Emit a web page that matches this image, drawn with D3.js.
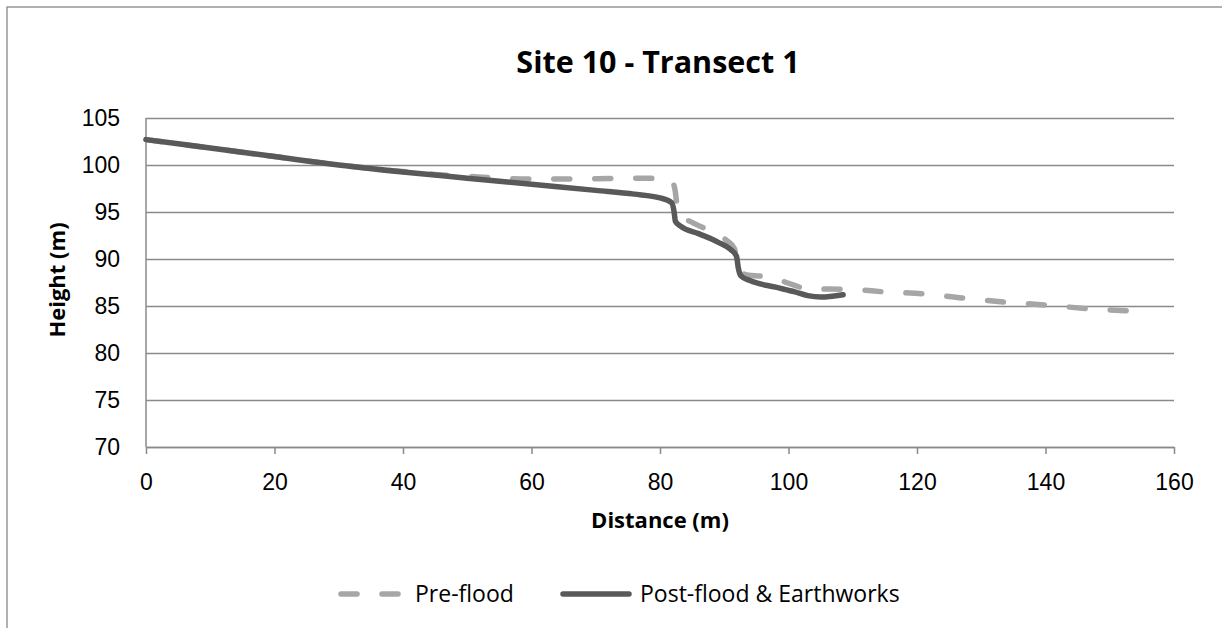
<!DOCTYPE html>
<html>
<head>
<meta charset="utf-8">
<script src="https://cdn.jsdelivr.net/npm/d3@7"></script>
<style>
  body { margin: 0; background: #fff; }
  svg { display: block; font-family: "Open Sans", sans-serif; }
</style>
</head>
<body>
<div id="chart"></div>
<script>
// distances (m) and heights (m)
var preDist   = [0, 10, 20, 30, 40, 45, 50, 55, 60, 70, 78, 81.8, 82.3, 82.6, 83.2, 85, 88, 90.5, 91.5, 92, 92.6, 93.5, 97, 100.5, 103.5, 106, 110, 115, 121, 127, 134, 140, 147, 152.7];
var preHeight = [102.7, 101.8, 100.9, 100.0, 99.3, 99.0, 98.8, 98.6, 98.5, 98.55, 98.6, 98.3, 97.5, 96.0, 94.6, 93.9, 92.9, 91.9, 91.2, 90.2, 88.8, 88.3, 88.1, 87.3, 86.75, 86.8, 86.75, 86.5, 86.3, 85.85, 85.4, 85.1, 84.7, 84.5];

var postDist   = [0, 10, 20, 30, 40, 50, 60, 70, 76, 80, 81.8, 82.2, 82.4, 83.2, 86, 89, 91, 91.9, 92.2, 92.6, 94, 98, 101, 103, 105, 108.5];
var postHeight = [102.7, 101.8, 100.9, 100.0, 99.25, 98.6, 97.95, 97.3, 96.9, 96.5, 96.0, 95.0, 94.0, 93.5, 92.7, 91.8, 91.0, 90.3, 89.0, 88.2, 87.7, 87.0, 86.5, 86.1, 85.95, 86.2];

var xTicks = [0, 20, 40, 60, 80, 100, 120, 140, 160];
var yTicks = [70, 75, 80, 85, 90, 95, 100, 105];
var seriesNames = ["Pre-flood", "Post-flood & Earthworks"];

var W = 1222, H = 628;
var margin = { top: 118, right: 48, bottom: 181, left: 146 };
var width = W - margin.left - margin.right;
var height = H - margin.top - margin.bottom;

var svg = d3.select("#chart").append("svg")
    .attr("width", W)
    .attr("height", H);

// outer chart border (cut off at right and bottom like the picture)
svg.append("rect")
    .attr("x", 7).attr("y", 7)
    .attr("width", W + 20).attr("height", H + 20)
    .attr("fill", "none")
    .attr("stroke", "#878787")
    .attr("stroke-width", 1.3);

var x = d3.scaleLinear().domain([0, 160]).range([0, width]);
var y = d3.scaleLinear().domain([70, 105]).range([height, 0]);

var g = svg.append("g").attr("transform", "translate(" + margin.left + "," + margin.top + ")");

// horizontal gridlines + y labels
var yAxis = g.append("g")
    .call(d3.axisLeft(y).tickValues(yTicks).tickSize(-width).tickPadding(26).tickFormat(d3.format("d")));
yAxis.select(".domain").remove();
yAxis.selectAll(".tick line").attr("stroke", "#8a8a8a").attr("stroke-width", 1.5);
yAxis.selectAll(".tick text").attr("font-size", 23).attr("fill", "#000");

// left axis line
g.append("line")
    .attr("x1", 0).attr("x2", 0).attr("y1", 0).attr("y2", height)
    .attr("stroke", "#8a8a8a").attr("stroke-width", 1.5);

// x axis
var xAxis = g.append("g")
    .attr("transform", "translate(0," + height + ")")
    .call(d3.axisBottom(x).tickValues(xTicks).tickSize(7).tickPadding(20).tickSizeOuter(0));
xAxis.select(".domain").attr("stroke", "#8a8a8a").attr("stroke-width", 1.5);
xAxis.selectAll(".tick line").attr("stroke", "#8a8a8a").attr("stroke-width", 1.5);
xAxis.selectAll(".tick text").attr("font-size", 23).attr("fill", "#000");

var line = d3.line()
    .x(function (d) { return x(d[0]); })
    .y(function (d) { return y(d[1]); })
    .curve(d3.curveMonotoneX);

var pre = d3.zip(preDist, preHeight);
var post = d3.zip(postDist, postHeight);

g.append("path")
    .datum(pre)
    .attr("d", line)
    .attr("fill", "none")
    .attr("stroke", "#a6a6a6")
    .attr("stroke-width", 5.5)
    .attr("stroke-linecap", "round")
    .attr("stroke-dasharray", "16,25");

g.append("path")
    .datum(post)
    .attr("d", line)
    .attr("fill", "none")
    .attr("stroke", "#595959")
    .attr("stroke-width", 5.5)
    .attr("stroke-linecap", "round")
    .attr("stroke-linejoin", "round");

// title
svg.append("text")
    .attr("x", 658).attr("y", 73)
    .attr("text-anchor", "middle")
    .attr("font-size", 30.5)
    .attr("font-weight", "bold")
    .text("Site 10 - Transect 1");

// axis titles
svg.append("text")
    .attr("x", 660).attr("y", 528)
    .attr("text-anchor", "middle")
    .attr("font-size", 22)
    .attr("font-weight", "bold")
    .text("Distance (m)");

svg.append("text")
    .attr("transform", "translate(65,280) rotate(-90)")
    .attr("text-anchor", "middle")
    .attr("font-size", 22)
    .attr("font-weight", "bold")
    .text("Height (m)");

// legend
var legend = svg.append("g");
legend.append("line")
    .attr("x1", 341).attr("x2", 399).attr("y1", 594).attr("y2", 594)
    .attr("stroke", "#a6a6a6").attr("stroke-width", 5.5)
    .attr("stroke-linecap", "round").attr("stroke-dasharray", "16,25");
legend.append("text")
    .attr("x", 415).attr("y", 602)
    .attr("font-size", 23)
    .text(seriesNames[0]);
legend.append("line")
    .attr("x1", 563).attr("x2", 629).attr("y1", 594).attr("y2", 594)
    .attr("stroke", "#595959").attr("stroke-width", 5.5)
    .attr("stroke-linecap", "round");
legend.append("text")
    .attr("x", 640).attr("y", 602)
    .attr("font-size", 23)
    .text(seriesNames[1]);
</script>
</body>
</html>
